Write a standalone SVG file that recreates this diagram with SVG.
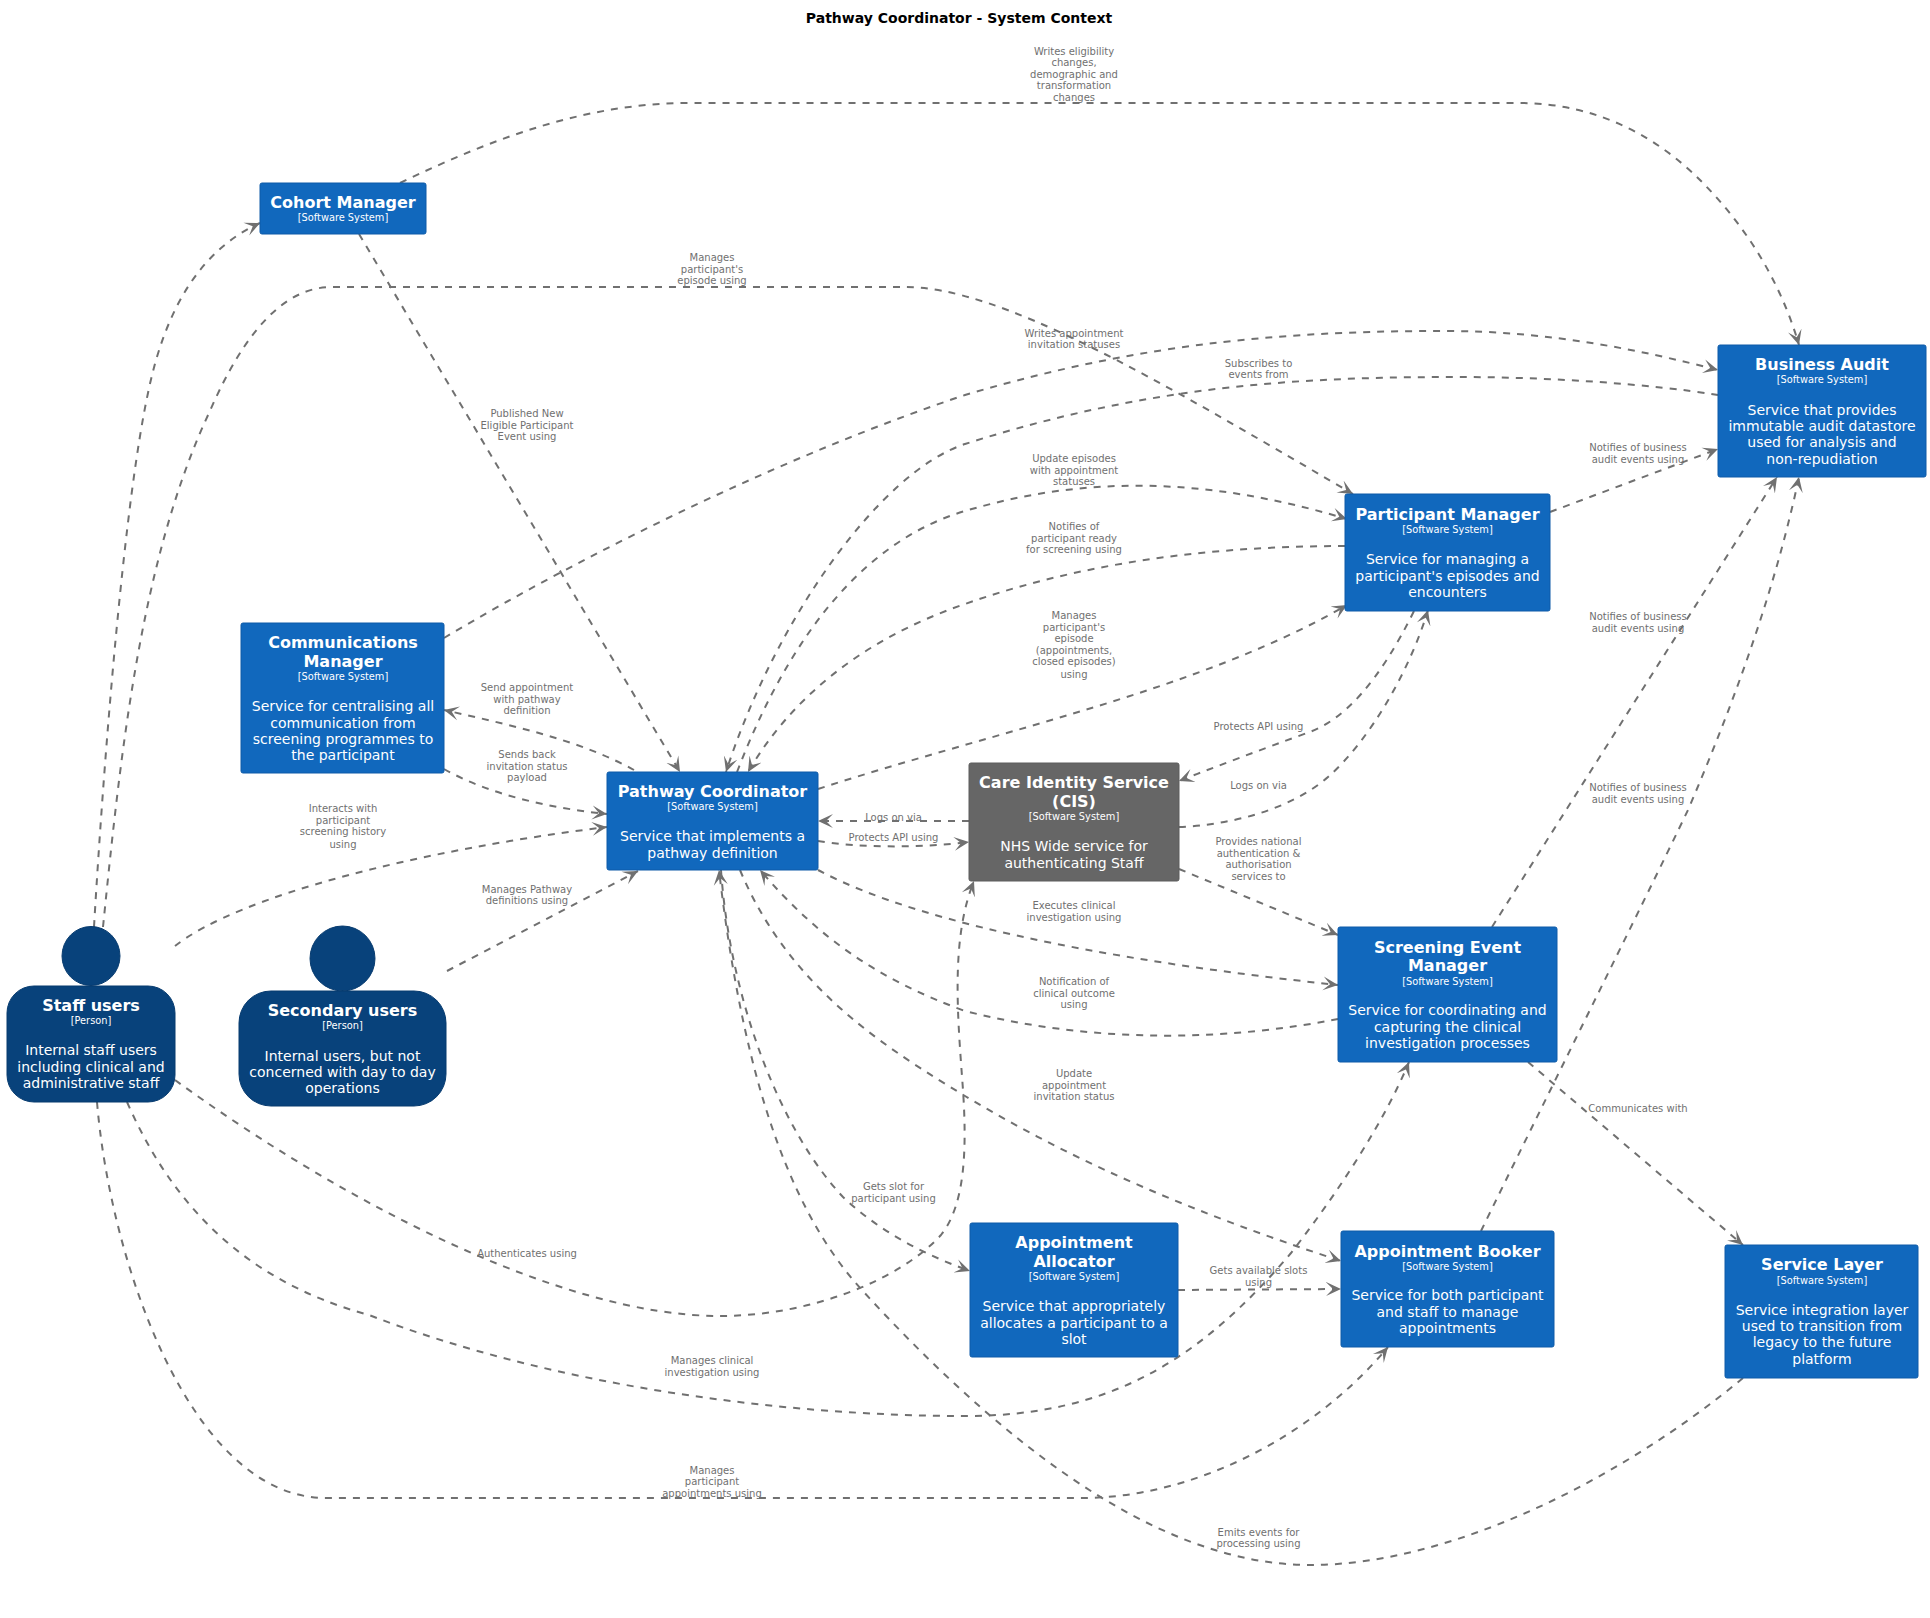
<svg xmlns="http://www.w3.org/2000/svg" width="1930" height="1618" viewBox="0 0 1930 1618">
<style>
text{font-family:"DejaVu Sans",sans-serif;text-anchor:middle}
.t{font-size:14px;font-weight:bold;fill:#000}
.n{font-size:16px;font-weight:bold;fill:#fff}
.g{font-size:9.8px;fill:#fff}
.d{font-size:14px;fill:#fff}
.l{font-size:10px;fill:#707070}
.sys{fill:#1168bd;stroke:#0e5ba8;stroke-width:1}
.ext{fill:#666;stroke:#5c5c5c;stroke-width:1}
.per{fill:#08427b;stroke:#073b6f;stroke-width:1}
#connectors path{fill:none;stroke:#707070;stroke-width:2;stroke-dasharray:7 7;marker-end:url(#a)}
</style>
<defs>
<marker id="a" markerUnits="userSpaceOnUse" markerWidth="16" markerHeight="16" refX="15" refY="8" orient="auto">
<path d="M0,1 L15,8 L0,15 L7,8 Z" fill="#707070" stroke="none"/>
</marker>
</defs>
<rect width="1930" height="1618" fill="#fff"/>
<text class="t" x="959" y="23">Pathway Coordinator - System Context</text>
<g id="connectors">
<path d="M400,183 C500,135 590,103 690,103 L1519,103 C1600,103 1660,140 1700,180 C1745,225 1780,280 1799,345"/>
<path d="M359,234 L680,772"/>
<path d="M94,927 C105,740 125,500 148,393 C165,310 200,250 260,223"/>
<path d="M103,927 C120,760 140,560 209,413 C245,330 285,287 332,287 L905,287 C1000,287 1150,375 1353,494"/>
<path d="M444,638 C600,545 800,450 965,395 C1150,340 1300,331 1445,331 C1550,331 1640,350 1718,370"/>
<path d="M1718,395 C1650,384 1550,377 1457,377 C1300,377 1150,385 965,444 C880,472 775,620 726,772"/>
<path d="M737,772 C780,660 850,545 965,511 C1080,477 1200,475 1347,519"/>
<path d="M1345,546 C1220,546 1090,560 965,604 C860,640 790,700 748,772"/>
<path d="M818,789 C1000,730 1200,690 1347,605"/>
<path d="M1414,611 C1380,680 1345,720 1307,733 C1260,750 1220,765 1179,781"/>
<path d="M1179,827 C1230,825 1290,810 1328,777 C1370,740 1410,670 1428,610"/>
<path d="M634,770 C580,740 510,725 444,710"/>
<path d="M444,769 C490,795 550,808 607,814"/>
<path d="M175,946 C240,895 420,850 607,827"/>
<path d="M447,971 L638,871"/>
<path d="M969,821 L818,821"/>
<path d="M818,841 C860,848 920,848 969,842"/>
<path d="M1179,869 L1338,935"/>
<path d="M818,870 C930,930 1150,965 1338,985"/>
<path d="M1338,1019 C1230,1040 1100,1045 965,1011 C880,980 820,940 760,870"/>
<path d="M740,870 C790,990 890,1050 965,1096 C1080,1165 1200,1215 1341,1261"/>
<path d="M721,870 C730,1000 780,1130 843,1197 C880,1232 925,1255 970,1271"/>
<path d="M1743,1378 C1620,1480 1450,1565 1310,1565 C1150,1565 990,1430 861,1289 C780,1200 740,1050 719,870"/>
<path d="M175,1080 C340,1200 560,1316 720,1316 C810,1316 900,1280 941,1235 C965,1205 967,1150 963,1090 C958,1020 950,940 974,881"/>
<path d="M127,1102 C170,1200 240,1280 369,1315 C550,1385 780,1416 965,1416 C1110,1416 1200,1360 1291,1253 C1340,1190 1385,1120 1409,1062"/>
<path d="M97,1102 C110,1260 190,1498 326,1498 L1082,1498 C1190,1498 1310,1440 1388,1347"/>
<path d="M1178,1290 L1341,1289"/>
<path d="M1528,1062 L1743,1245"/>
<path d="M1492,927 L1777,477"/>
<path d="M1481,1231 C1540,1110 1640,910 1688,810 C1735,700 1775,590 1799,477"/>
<path d="M1550,512 L1718,449"/>
</g>
<g id="labels">
<text class="l" x="1074" y="54.500">Writes eligibility</text><text class="l" x="1074" y="66">changes,</text><text class="l" x="1074" y="77.500">demographic and</text><text class="l" x="1074" y="89">transformation</text><text class="l" x="1074" y="100.500">changes</text>
<text class="l" x="712" y="261">Manages</text><text class="l" x="712" y="272.500">participant's</text><text class="l" x="712" y="284">episode using</text>
<text class="l" x="527" y="417">Published New</text><text class="l" x="527" y="428.500">Eligible Participant</text><text class="l" x="527" y="440">Event using</text>
<text class="l" x="527" y="691">Send appointment</text><text class="l" x="527" y="702.500">with pathway</text><text class="l" x="527" y="714">definition</text>
<text class="l" x="527" y="758">Sends back</text><text class="l" x="527" y="769.500">invitation status</text><text class="l" x="527" y="781">payload</text>
<text class="l" x="343" y="812">Interacts with</text><text class="l" x="343" y="823.500">participant</text><text class="l" x="343" y="835">screening history</text><text class="l" x="343" y="847.500">using</text>
<text class="l" x="527" y="893">Manages Pathway</text><text class="l" x="527" y="904">definitions using</text>
<text class="l" x="1074" y="337">Writes appointment</text><text class="l" x="1074" y="348">invitation statuses</text>
<text class="l" x="1258.500" y="367">Subscribes to</text><text class="l" x="1258.500" y="378">events from</text>
<text class="l" x="1074" y="462">Update episodes</text><text class="l" x="1074" y="473.500">with appointment</text><text class="l" x="1074" y="485">statuses</text>
<text class="l" x="1074" y="530">Notifies of</text><text class="l" x="1074" y="541.500">participant ready</text><text class="l" x="1074" y="553">for screening using</text>
<text class="l" x="1074" y="619">Manages</text><text class="l" x="1074" y="630.500">participant's</text><text class="l" x="1074" y="642">episode</text><text class="l" x="1074" y="653.500">(appointments,</text><text class="l" x="1074" y="665">closed episodes)</text><text class="l" x="1074" y="677.500">using</text>
<text class="l" x="1258.500" y="730">Protects API using</text>
<text class="l" x="1258.500" y="789">Logs on via</text>
<text class="l" x="1638" y="451">Notifies of business</text><text class="l" x="1638" y="462.500">audit events using</text>
<text class="l" x="1638" y="620">Notifies of business</text><text class="l" x="1638" y="631.500">audit events using</text>
<text class="l" x="1638" y="791">Notifies of business</text><text class="l" x="1638" y="802.500">audit events using</text>
<text class="l" x="1258.500" y="845">Provides national</text><text class="l" x="1258.500" y="856.500">authentication &amp;</text><text class="l" x="1258.500" y="868">authorisation</text><text class="l" x="1258.500" y="880">services to</text>
<text class="l" x="1074" y="909">Executes clinical</text><text class="l" x="1074" y="920.500">investigation using</text>
<text class="l" x="1074" y="985">Notification of</text><text class="l" x="1074" y="996.500">clinical outcome</text><text class="l" x="1074" y="1008">using</text>
<text class="l" x="1074" y="1077">Update</text><text class="l" x="1074" y="1088.500">appointment</text><text class="l" x="1074" y="1100">invitation status</text>
<text class="l" x="1638" y="1112">Communicates with</text>
<text class="l" x="1258.500" y="1274">Gets available slots</text><text class="l" x="1258.500" y="1285.500">using</text>
<text class="l" x="1258.500" y="1536">Emits events for</text><text class="l" x="1258.500" y="1547">processing using</text>
<text class="l" x="893.500" y="821">Logs on via</text>
<text class="l" x="893.500" y="841">Protects API using</text>
<text class="l" x="893.500" y="1190">Gets slot for</text><text class="l" x="893.500" y="1201.500">participant using</text>
<text class="l" x="527" y="1257">Authenticates using</text>
<text class="l" x="712" y="1364">Manages clinical</text><text class="l" x="712" y="1375.500">investigation using</text>
<text class="l" x="712" y="1474">Manages</text><text class="l" x="712" y="1485">participant</text><text class="l" x="712" y="1496.500">appointments using</text>
</g>
<g id="cohort-manager"><rect class="sys" x="260" y="183" width="166" height="51" rx="2"/><text class="n" x="343" y="207.500">Cohort Manager</text><text class="g" x="343" y="221">[Software System]</text></g>
<g id="communications-manager"><rect class="sys" x="241" y="623" width="203" height="150" rx="2"/><text class="n" x="343" y="647.500">Communications</text><text class="n" x="343" y="666.500">Manager</text><text class="g" x="343" y="679.500">[Software System]</text><text class="d" x="343" y="711">Service for centralising all</text><text class="d" x="343" y="728">communication from</text><text class="d" x="343" y="744">screening programmes to</text><text class="d" x="343" y="760">the participant</text></g>
<g id="pathway-coordinator"><rect class="sys" x="607" y="772" width="211" height="98" rx="2"/><text class="n" x="712.500" y="796.500">Pathway Coordinator</text><text class="g" x="712.500" y="809.500">[Software System]</text><text class="d" x="712.500" y="841">Service that implements a</text><text class="d" x="712.500" y="858">pathway definition</text></g>
<g id="care-identity-service"><rect class="ext" x="969" y="763" width="210" height="118" rx="2"/><text class="n" x="1074" y="787.500">Care Identity Service</text><text class="n" x="1074" y="806.500">(CIS)</text><text class="g" x="1074" y="819.500">[Software System]</text><text class="d" x="1074" y="851">NHS Wide service for</text><text class="d" x="1074" y="868">authenticating Staff</text></g>
<g id="participant-manager"><rect class="sys" x="1345" y="494" width="205" height="117" rx="2"/><text class="n" x="1447.500" y="519.500">Participant Manager</text><text class="g" x="1447.500" y="533">[Software System]</text><text class="d" x="1447.500" y="564">Service for managing a</text><text class="d" x="1447.500" y="581">participant's episodes and</text><text class="d" x="1447.500" y="597">encounters</text></g>
<g id="business-audit"><rect class="sys" x="1718" y="345" width="208" height="132" rx="2"/><text class="n" x="1822" y="369.500">Business Audit</text><text class="g" x="1822" y="382.500">[Software System]</text><text class="d" x="1822" y="415">Service that provides</text><text class="d" x="1822" y="431">immutable audit datastore</text><text class="d" x="1822" y="447">used for analysis and</text><text class="d" x="1822" y="464">non-repudiation</text></g>
<g id="screening-event-manager"><rect class="sys" x="1338" y="927" width="219" height="135" rx="2"/><text class="n" x="1447.500" y="952.500">Screening Event</text><text class="n" x="1447.500" y="970.500">Manager</text><text class="g" x="1447.500" y="984.500">[Software System]</text><text class="d" x="1447.500" y="1015">Service for coordinating and</text><text class="d" x="1447.500" y="1032">capturing the clinical</text><text class="d" x="1447.500" y="1048">investigation processes</text></g>
<g id="appointment-booker"><rect class="sys" x="1341" y="1231" width="213" height="116" rx="2"/><text class="n" x="1447.500" y="1256.500">Appointment Booker</text><text class="g" x="1447.500" y="1269.500">[Software System]</text><text class="d" x="1447.500" y="1300">Service for both participant</text><text class="d" x="1447.500" y="1317">and staff to manage</text><text class="d" x="1447.500" y="1333">appointments</text></g>
<g id="service-layer"><rect class="sys" x="1725" y="1245" width="193" height="133" rx="2"/><text class="n" x="1822" y="1269.500">Service Layer</text><text class="g" x="1822" y="1283.500">[Software System]</text><text class="d" x="1822" y="1315">Service integration layer</text><text class="d" x="1822" y="1331">used to transition from</text><text class="d" x="1822" y="1347">legacy to the future</text><text class="d" x="1822" y="1364">platform</text></g>
<g id="appointment-allocator"><rect class="sys" x="970" y="1223" width="208" height="134" rx="2"/><text class="n" x="1074" y="1248">Appointment</text><text class="n" x="1074" y="1267">Allocator</text><text class="g" x="1074" y="1280">[Software System]</text><text class="d" x="1074" y="1311">Service that appropriately</text><text class="d" x="1074" y="1328">allocates a participant to a</text><text class="d" x="1074" y="1344">slot</text></g>
<g id="staff-users"><ellipse class="per" cx="91" cy="956" rx="29" ry="29.500"/><rect class="per" x="7" y="986" width="168" height="116" rx="27"/><text class="n" x="91" y="1010.500">Staff users</text><text class="g" x="91" y="1023.500">[Person]</text><text class="d" x="91" y="1055">Internal staff users</text><text class="d" x="91" y="1072">including clinical and</text><text class="d" x="91" y="1088">administrative staff</text></g>
<g id="secondary-users"><ellipse class="per" cx="342.500" cy="958.500" rx="32.500" ry="32.500"/><rect class="per" x="239" y="991" width="207" height="115" rx="32"/><text class="n" x="342.500" y="1016">Secondary users</text><text class="g" x="342.500" y="1029">[Person]</text><text class="d" x="342.500" y="1061">Internal users, but not</text><text class="d" x="342.500" y="1077">concerned with day to day</text><text class="d" x="342.500" y="1093">operations</text></g>
</svg>
